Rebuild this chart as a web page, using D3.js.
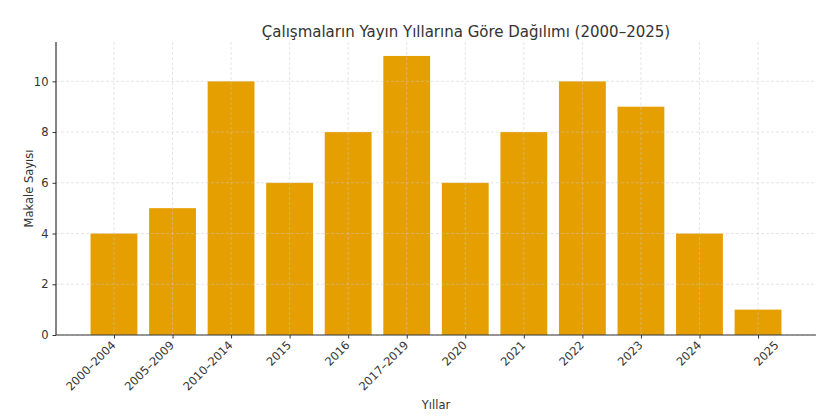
<!DOCTYPE html>
<html><head><meta charset="utf-8">
<script src="https://cdn.jsdelivr.net/npm/d3@7/dist/d3.min.js"></script>
<style>body{margin:0;background:#fff}svg{display:block}text{font-family:"DejaVu Sans",sans-serif}</style>
</head><body><svg id="c" width="835" height="418"></svg>
<script>
const categories = ["2000–2004","2005–2009","2010–2014","2015","2016","2017–2019","2020","2021","2022","2023","2024","2025"];
const values = [4,5,10,6,8,11,6,8,10,9,4,1];
const yTicks = [0,2,4,6,8,10];
const title = "Çalışmaların Yayın Yıllarına Göre Dağılımı (2000–2025)";
const xTitle = "Yıllar";
const yTitle = "Makale Sayısı";

const svg = d3.select("#c");
const L = 56, R = 816, T = 42, B = 335;
const n = categories.length;
const x = d3.scaleLinear().domain([-0.99, n - 1 + 0.99]).range([L, R]);
const y = d3.scaleLinear().domain([0, 11.55]).range([B, T]);
const bw = x(0.8) - x(0);

// bars
svg.append("g").selectAll("rect").data(values).join("rect")
  .attr("x", (d,i) => x(i) - bw/2).attr("width", bw)
  .attr("y", d => y(d)).attr("height", d => B - y(d))
  .attr("fill", "#E69F00");

// grid
const g = svg.append("g").attr("stroke", "#c8c8c8").attr("stroke-opacity", 0.6)
  .attr("stroke-width", 0.8).attr("stroke-dasharray", "3,2");
g.selectAll(".gy").data(yTicks).join("line")
  .attr("x1", L).attr("x2", R).attr("y1", d => y(d)).attr("y2", d => y(d));
g.selectAll(".gx").data(categories).join("line")
  .attr("x1", (d,i) => x(i)).attr("x2", (d,i) => x(i)).attr("y1", T).attr("y2", B);

// y axis
const ya = svg.append("g").attr("transform", `translate(${L},0)`)
  .call(d3.axisLeft(y).tickValues(yTicks).tickSize(3.5).tickPadding(4));
ya.select(".domain").remove();
ya.selectAll("text").attr("font-size", 11.5).attr("fill", "#333");
ya.selectAll("line").attr("stroke", "#333");

// x axis
const xa = svg.append("g").attr("transform", `translate(0,${B})`)
  .call(d3.axisBottom(x).tickValues(d3.range(n)).tickFormat(i => categories[i]).tickSize(3.5));
xa.select(".domain").remove();
xa.selectAll("line").attr("stroke", "#333");
xa.selectAll("text").attr("font-size", 11.5).attr("fill", "#333")
  .attr("text-anchor", "end")
  .attr("transform", (d,i) => `translate(${i === n-1 ? 16 : -3},6) rotate(-45)`)
  .attr("dy", "0.6em").attr("y", 0);

// spines
svg.append("line").attr("x1", L).attr("x2", L).attr("y1", T).attr("y2", B).attr("stroke", "#333").attr("stroke-width", 1.2);
svg.append("line").attr("x1", L).attr("x2", R).attr("y1", B).attr("y2", B).attr("stroke", "#333").attr("stroke-width", 1.2);

// titles
svg.append("text").attr("x", 466).attr("y", 37).attr("text-anchor", "middle")
  .attr("font-size", 15).attr("fill", "#333").text(title);
svg.append("text").attr("x", 436).attr("y", 409).attr("text-anchor", "middle")
  .attr("font-size", 11.5).attr("fill", "#333").text(xTitle);
svg.append("text").attr("transform", `translate(33,${(T+B)/2}) rotate(-90)`).attr("text-anchor", "middle")
  .attr("font-size", 11.5).attr("fill", "#333").text(yTitle);
</script></body></html>
